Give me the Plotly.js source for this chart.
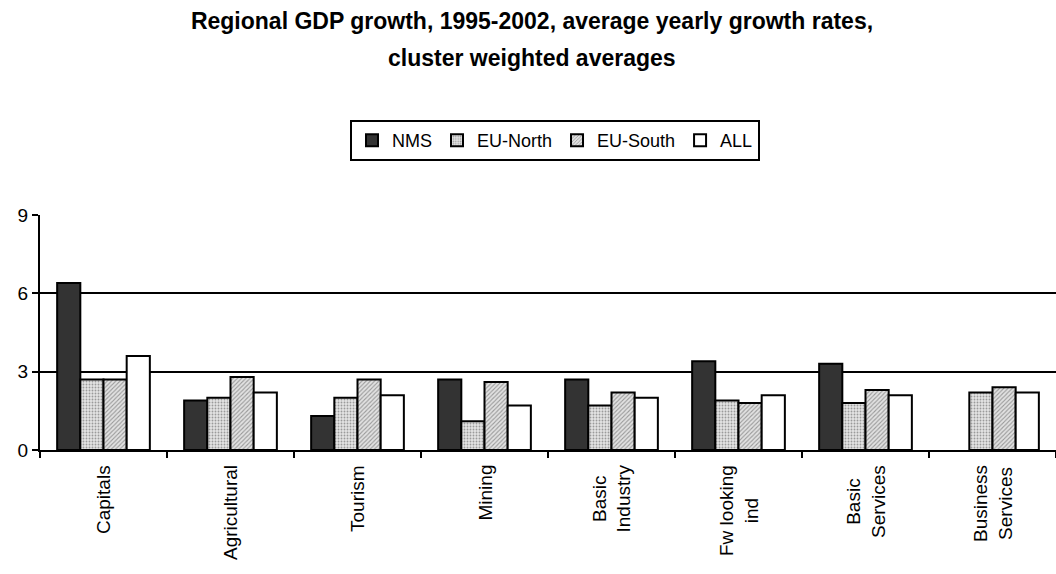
<!DOCTYPE html>
<html>
<head>
<meta charset="utf-8">
<script src="https://cdn.plot.ly/plotly-3.0.1.min.js"></script>
<style>html,body{margin:0;padding:0;background:#fff;}#chart{width:1056px;height:574px;}</style>
</head>
<body>
<div id="chart"></div>
<script>
const categories = ["Capitals", "Agricultural", "Tourism", "Mining", "Basic<br>Industry", "Fw looking<br>ind", "Basic<br>Services", "Business<br>Services"];
const seriesNames = ["NMS", "EU-North", "EU-South", "ALL"];
const nms      = [6.4, 1.9, 1.3, 2.7, 2.7, 3.4, 3.3, null];
const euNorth  = [2.7, 2.0, 2.0, 1.1, 1.7, 1.9, 1.8, 2.2];
const euSouth  = [2.7, 2.8, 2.7, 2.6, 2.2, 1.8, 2.3, 2.4];
const all      = [3.6, 2.2, 2.1, 1.7, 2.0, 2.1, 2.1, 2.2];
const yTicks = [0, 3, 6, 9];
const titleLines = ["Regional GDP growth, 1995-2002, average yearly growth rates,", "cluster weighted averages"];

const FONT = "Liberation Sans, Arial, sans-serif";
const TICK_SIZE = 19;
const line = {color: "#000", width: 2};

const traces = [
  {name: seriesNames[0], y: nms, marker: {color: "#333333", line: line}},
  {name: seriesNames[1], y: euNorth, marker: {color: "#d6d6d6", line: line,
     pattern: {shape: ".", fgcolor: "#9a9a9a", bgcolor: "#e4e4e4", size: 3, solidity: 0.3}}},
  {name: seriesNames[2], y: euSouth, marker: {color: "#cfcfcf", line: line,
     pattern: {shape: "/", fgcolor: "#999999", bgcolor: "#e2e2e2", size: 3, solidity: 0.35}}},
  {name: seriesNames[3], y: all, marker: {color: "#ffffff", line: line}}
].map(t => Object.assign({type: "bar", x: categories}, t));

// category labels: rotated, lines centred, top anchored just under the axis
const catLabels = categories.map(c => ({
  text: c, x: c, xref: "x", y: (450 - 463) / 235, yref: "paper",
  textangle: -90, align: "center", xanchor: "center", yanchor: "top",
  showarrow: false, font: {family: FONT, size: TICK_SIZE, color: "#000"}
}));

const layout = {
  width: 1056, height: 574,
  paper_bgcolor: "#fff", plot_bgcolor: "#fff",
  font: {family: FONT, color: "#000", size: 18},
  title: {
    text: "<b>" + titleLines[0] + "</b>",
    font: {family: FONT, size: 23, color: "#000"},
    x: 532/1056, xref: "container", xanchor: "center",
    y: 1 - 21/574, yref: "container", yanchor: "middle"
  },
  annotations: [{
    text: "<b>" + titleLines[1] + "</b>",
    font: {family: FONT, size: 23, color: "#000"},
    xref: "paper", yref: "paper",
    x: (532 - 40) / 1016, y: (450 - 58) / 235,
    xanchor: "center", yanchor: "middle", showarrow: false
  }].concat(catLabels),
  margin: {l: 40, r: 0, t: 215, b: 124, pad: 0},
  barmode: "group",
  bargap: 0.27,
  bargroupgap: 0,
  showlegend: true,
  legend: {
    orientation: "h",
    x: 555/1056, xref: "container", xanchor: "center",
    y: 1 - 120/574, yref: "container", yanchor: "top",
    bordercolor: "#000", borderwidth: 2,
    font: {family: FONT, size: 18, color: "#000"},
    itemwidth: 30, tracegroupgap: 0,
    traceorder: "normal"
  },
  xaxis: {
    type: "category",
    showticklabels: false,
    showline: true, linecolor: "#000", linewidth: 2,
    ticks: "outside", tickson: "boundaries", ticklen: 6, tickwidth: 2, tickcolor: "#000",
    showgrid: false, zeroline: false, fixedrange: true
  },
  yaxis: {
    range: [0, 9],
    tickvals: yTicks,
    showline: true, linecolor: "#000", linewidth: 2,
    ticks: "outside", ticklen: 6, tickwidth: 2, tickcolor: "#000",
    showgrid: true, gridcolor: "#000", gridwidth: 2,
    zeroline: false,
    tickfont: {family: FONT, size: 19, color: "#000"},
    fixedrange: true
  }
};

Plotly.newPlot("chart", traces, layout, {displayModeBar: false, staticPlot: true});
</script>
</body>
</html>
